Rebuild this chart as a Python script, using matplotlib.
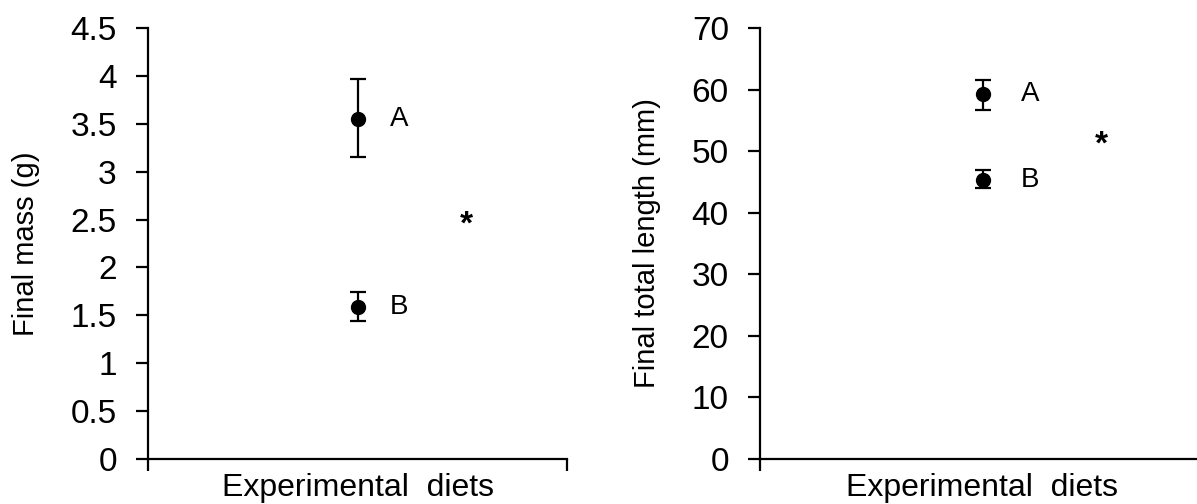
import matplotlib
matplotlib.use("Agg")
import matplotlib.pyplot as plt

plt.rcParams["font.family"] = ["Liberation Sans", "DejaVu Sans"]

# %% data
groups = ["A", "B"]

mass_mean = [3.55, 1.59]
mass_low = [3.15, 1.44]
mass_high = [3.97, 1.74]

length_mean = [59.3, 45.3]
length_low = [56.7, 44.0]
length_high = [61.6, 46.9]

mass_ticks = [0, 0.5, 1, 1.5, 2, 2.5, 3, 3.5, 4, 4.5]
mass_ticklabels = ["0", "0.5", "1", "1.5", "2", "2.5", "3", "3.5", "4", "4.5"]
length_ticks = [0, 10, 20, 30, 40, 50, 60, 70]

star_mass = 2.44
star_length = 51.0

# %% figure
fig = plt.figure(figsize=(11.97, 5.04), dpi=100)
ax1 = fig.add_axes([148 / 1197, 1 - 459 / 504, 419 / 1197, 431 / 504])
ax2 = fig.add_axes([760 / 1197, 1 - 459 / 504, 445 / 1197, 431 / 504])


def draw_panel(ax, mean, low, high, ylim, yticks, yticklabels, ylabel, star_y, lab_x):
    x = [0.5] * len(mean)
    yerr = [[m - lo for m, lo in zip(mean, low)], [hi - m for m, hi in zip(mean, high)]]
    ax.errorbar(x, mean, yerr=yerr, fmt="o", color="black", ms=10,
                elinewidth=1.6, capsize=6, capthick=1.6)
    for m, g in zip(mean, groups):
        ax.text(lab_x, m, g, fontsize=20, ha="center", va="center")
    ax.text(lab_x + 0.16, star_y, "*", fontsize=24, fontweight="bold",
            ha="center", va="center")
    ax.set_xlim(0, 1)
    ax.set_ylim(*ylim)
    ax.set_xticks([0, 1])
    ax.set_xticklabels(["", ""])
    ax.set_yticks(yticks)
    ax.set_yticklabels(yticklabels)
    for side in ("top", "right"):
        ax.spines[side].set_visible(False)
    for side in ("left", "bottom"):
        ax.spines[side].set_linewidth(1.6)
    ax.tick_params(axis="both", direction="out", length=8.5, width=1.6,
                   labelsize=24, pad=14)
    ax.set_ylabel(ylabel, fontsize=21, labelpad=22)
    ax.set_xlabel("Experimental  diets", fontsize=23)
    ax.xaxis.set_label_coords(0.5, -0.033)


draw_panel(ax1, mass_mean, mass_low, mass_high, (0, 4.5), mass_ticks,
           mass_ticklabels, "Final mass (g)", star_mass, 0.60)
draw_panel(ax2, length_mean, length_low, length_high, (0, 70), length_ticks,
           [str(t) for t in length_ticks], "Final total length (mm)", star_length, 0.607)

fig.savefig("out.png", dpi=100)
